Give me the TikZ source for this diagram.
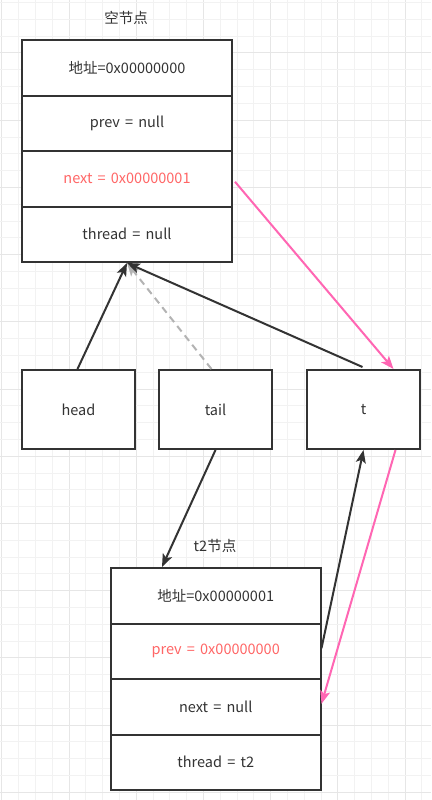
\documentclass[tikz,border=0pt]{standalone}
\usepackage{fontspec}
\setmainfont{Noto Sans CJK SC}[WordSpace=1.6]
\usetikzlibrary{arrows.meta,calc}
\definecolor{ink}{HTML}{333333}
\definecolor{redtxt}{HTML}{FF6666}
\definecolor{pinkln}{HTML}{FF66B3}
\definecolor{dashgray}{HTML}{B3B3B3}
\definecolor{gridminor}{HTML}{F2F2F2}
\definecolor{gridmajor}{HTML}{E6E6E6}
\tikzset{
  rowbox/.style={draw=ink, line width=2pt, fill=white, minimum width=210pt, minimum height=55.5pt, inner sep=0pt, anchor=north west, text=ink, font=\fontsize{14.5}{17}\selectfont},
  varbox/.style={draw=ink, line width=2pt, fill=white, minimum width=113pt, minimum height=79pt, inner sep=0pt, anchor=north west, text=ink, font=\fontsize{14.5}{17}\selectfont},
  titletxt/.style={text=ink, font=\fontsize{14.5}{17}\selectfont, inner sep=0pt},
  blackarrow/.style={draw=ink, line width=2pt, -{Stealth[length=13pt,width=10pt,inset=3pt]}},
  pinkarrow/.style={draw=pinkln, line width=2pt, -{Stealth[length=13pt,width=10pt,inset=3pt]}},
  grayarrow/.style={draw=dashgray, line width=2pt, dash pattern=on 7pt off 5pt, -{Stealth[length=13pt,width=10pt,inset=3pt]}}
}
\begin{document}
\begin{tikzpicture}[x=1pt,y=-1pt]
\useasboundingbox (0,0) rectangle (431,800);
\fill[white] (0,0) rectangle (431,800);
% grid
\foreach \i in {0,...,25}{
  \pgfmathsetmacro{\gx}{1.9+16.8*\i}
  \pgfmathtruncatemacro{\m}{mod(\i,4)}
  \ifnum\m=0
    \draw[gridmajor, line width=1pt] (\gx,0) -- (\gx,800);
  \else
    \draw[gridminor, line width=1pt] (\gx,0) -- (\gx,800);
  \fi
}
\foreach \j in {0,...,47}{
  \pgfmathsetmacro{\gy}{2.6+16.8*\j}
  \pgfmathtruncatemacro{\m}{mod(\j,4)}
  \ifnum\m=3
    \draw[gridmajor, line width=1pt] (0,\gy) -- (431,\gy);
  \else
    \draw[gridminor, line width=1pt] (0,\gy) -- (431,\gy);
  \fi
}
% top node
\node[titletxt] (title1) at (126,18) {空节点};
\node[rowbox] (a1) at (21,39) {地址=0x00000000};
\node[rowbox] (a2) at (21,94.5) {prev = null};
\node[rowbox, text=redtxt] (a3) at (21,150) {next = 0x00000001};
\node[rowbox] (a4) at (21,205.5) {thread = null};
% variables
\node[varbox] (head) at (21,369) {head};
\node[varbox] (tail) at (158,369) {tail};
\node[varbox] (t) at (306,369) {t};
% t2 node
\node[titletxt] (title2) at (215,546) {t2节点};
\node[rowbox, minimum width=209.5pt] (b1) at (110,567) {地址=0x00000001};
\node[rowbox, minimum width=209.5pt, text=redtxt] (b2) at (110,622.5) {prev = 0x00000000};
\node[rowbox, minimum width=209.5pt] (b3) at (110,678) {next = null};
\node[rowbox, minimum width=209.5pt] (b4) at (110,733.5) {thread = t2};
% connectors
\draw[grayarrow] ($(tail.north)+(-4,0)$) -- (a4.south);
\draw[blackarrow] ($(head.north)+(-1,0)$) -- (a4.south);
\draw[blackarrow] ($(t.north)+(-1,-2)$) -- (a4.south);
\draw[pinkarrow] ($(a3.east)+(2,3)$) -- ($(t.north)+(30,0)$);
\draw[blackarrow] (tail.south) -- ($(b1.north west)+(52,0)$);
\draw[blackarrow] ($(b2.east)+(0,-3)$) -- (t.south);
\draw[pinkarrow] ($(t.south)+(32,0)$) -- ($(b3.east)+(0,-3)$);
\end{tikzpicture}
\end{document}
